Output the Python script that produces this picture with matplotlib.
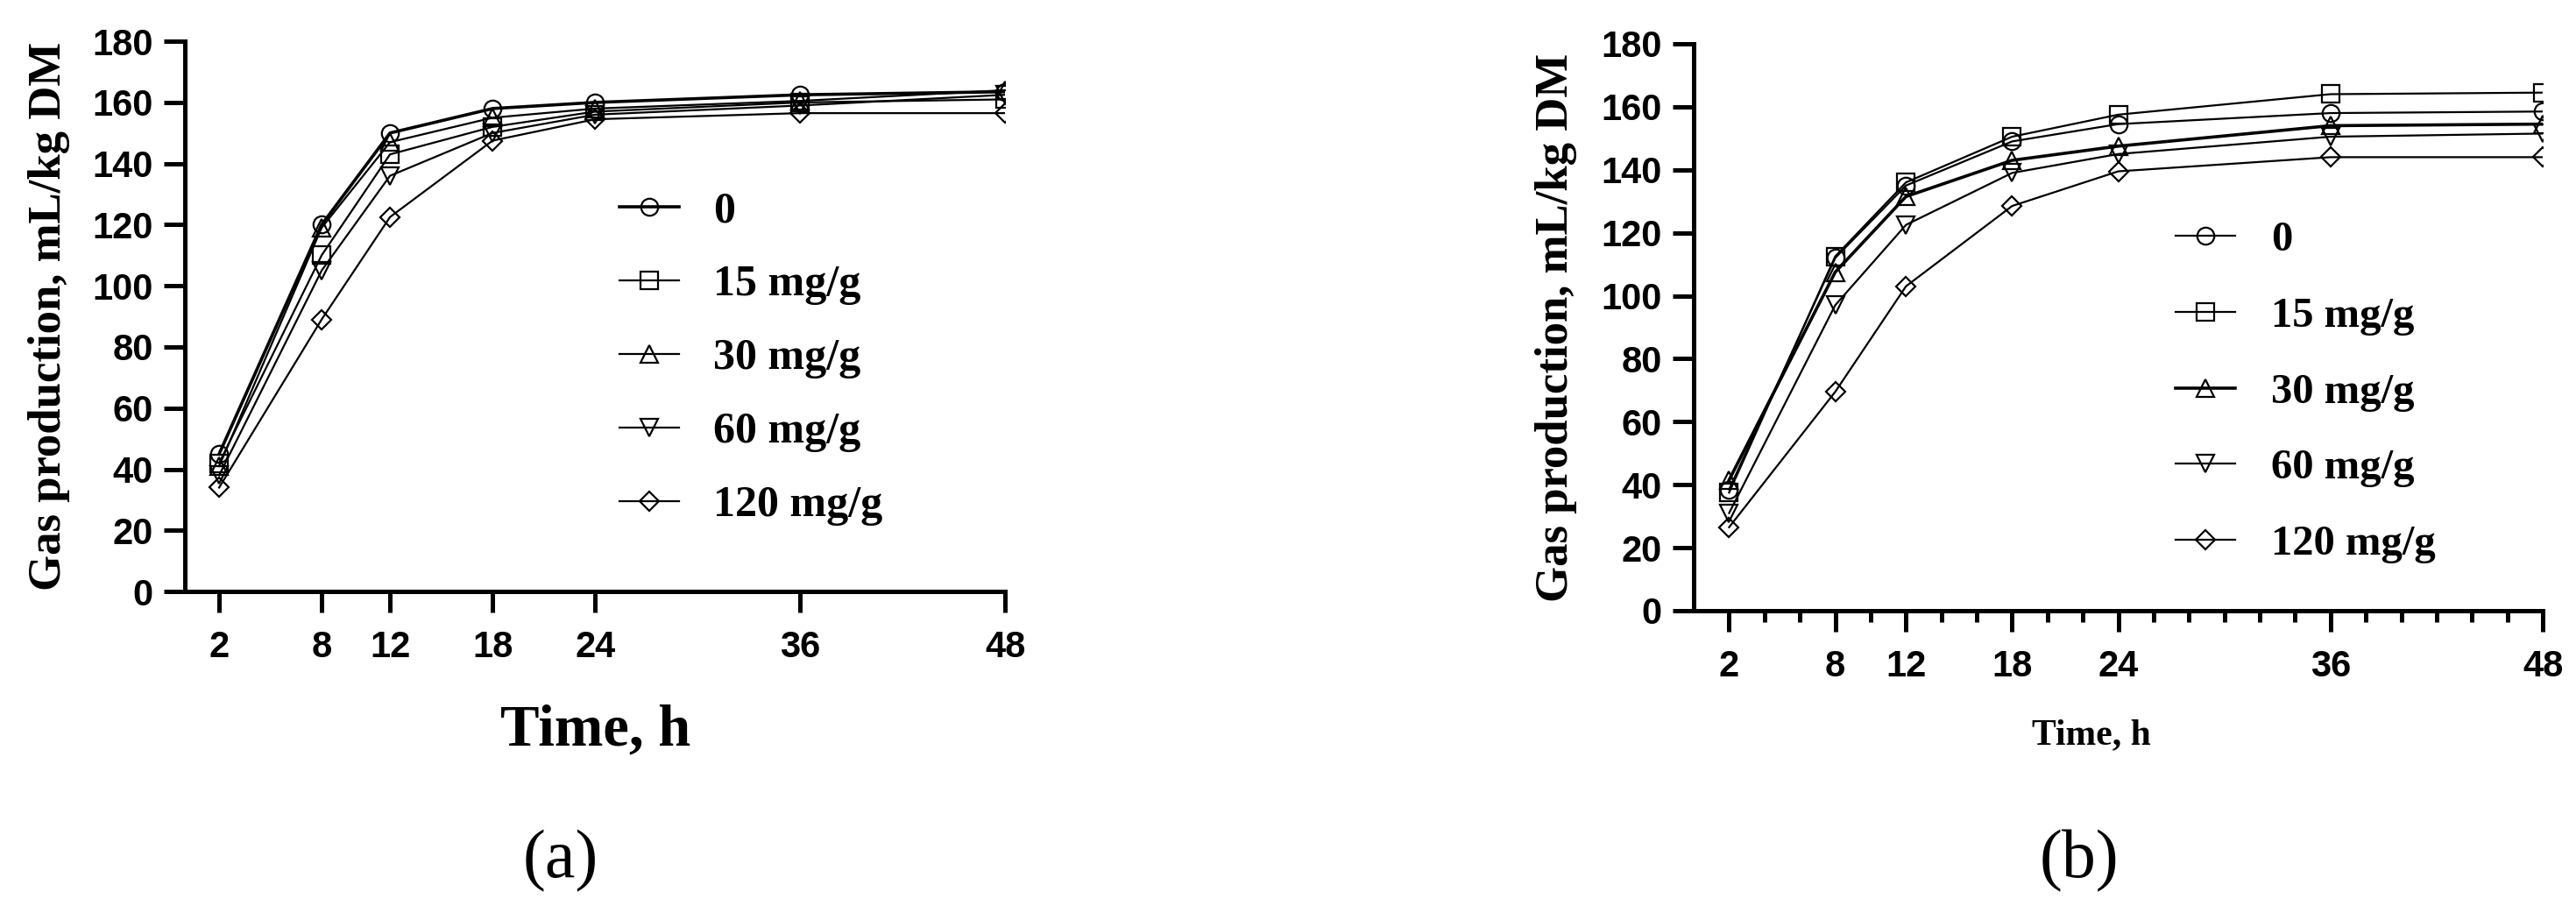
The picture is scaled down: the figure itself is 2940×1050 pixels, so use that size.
import matplotlib
matplotlib.use('Agg')
import matplotlib.pyplot as plt
from matplotlib.ticker import FixedLocator

# incubation times (h) and treatment doses
hours = [2, 8, 12, 18, 24, 36, 48]
doses = ['0', '15 mg/g', '30 mg/g', '60 mg/g', '120 mg/g']
markers = ['o', 's', '^', 'v', 'D']

# (a) gas production, mL/kg DM
gas_a_0 = [45, 120, 150, 158, 160, 162.5, 163.5]
gas_a_15 = [42, 110, 143, 152, 157, 160, 161]
gas_a_30 = [41, 119, 147, 155, 158, 160.5, 164]
gas_a_60 = [38, 105, 136, 150, 156, 159, 162.5]
gas_a_120 = [34, 89, 122.5, 147.5, 154.5, 156.5, 156.5]

# (b) gas production, mL/kg DM
gas_b_0 = [38.5, 112, 135, 149, 154.5, 158, 158.5]
gas_b_15 = [37.5, 112.5, 136, 150.5, 157.5, 164, 164.5]
gas_b_30 = [41.5, 107.5, 131.5, 143, 147.5, 154, 154.5]
gas_b_60 = [31, 97, 122.5, 139, 145, 150.5, 151.5]
gas_b_120 = [26.5, 69.5, 103, 128.5, 139.5, 144, 144]

serif = ['Liberation Serif', 'DejaVu Serif']
sans = ['Liberation Sans', 'DejaVu Sans']

fig = plt.figure(figsize=(29.4, 10.5), dpi=100)
ax_a = fig.add_axes([0.0718, 0.3571, 0.3184, 0.598])
ax_b = fig.add_axes([0.6575, 0.3362, 0.3296, 0.6162])


def draw_panel(ax, series, widths, minor):
    for vals, lab, m, lw in zip(series, doses, markers, widths):
        ms = 11 if m == 'D' else 14
        ax.plot(hours, vals, color='black', lw=lw, marker=m, ms=ms,
                fillstyle='none', mew=1.6, label=lab)
    ax.set_xlim(0, 48)
    ax.set_ylim(0, 180)
    ax.set_xticks(hours)
    ax.set_yticks(range(0, 181, 20))
    if minor:
        ax.xaxis.set_minor_locator(FixedLocator(list(range(4, 49, 2))))
        ax.tick_params(axis='x', which='minor', length=9, width=3.6)
    for side in ['top', 'right']:
        ax.spines[side].set_visible(False)
    for side in ['left', 'bottom']:
        ax.spines[side].set_linewidth(3.6)
    ax.tick_params(which='major', length=17, width=3.6, pad=9)
    ax.tick_params(axis='x', which='major', pad=15)
    for t in ax.get_xticklabels() + ax.get_yticklabels():
        t.set_family(sans)
        t.set_fontweight('bold')
        t.set_fontsize(30)
    ax.set_ylabel('Gas production, mL/kg DM', family=serif,
                  fontweight='bold', fontsize=38)


draw_panel(ax_a, [gas_a_0, gas_a_15, gas_a_30, gas_a_60, gas_a_120],
           [2.6, 1.6, 1.6, 1.6, 1.6], False)
draw_panel(ax_b, [gas_b_0, gas_b_15, gas_b_30, gas_b_60, gas_b_120],
           [1.6, 1.6, 2.6, 1.6, 1.6], True)

ax_a.yaxis.set_label_coords(-0.14, 0.5)
ax_b.yaxis.set_label_coords(-0.137, 0.5)

ax_a.set_xlabel('Time, h', family=serif, fontweight='bold', fontsize=48)
ax_a.xaxis.set_label_coords(0.5, -0.205)
ax_b.set_xlabel('Time, h', family=serif, fontweight='bold', fontsize=30)
ax_b.xaxis.set_label_coords(0.468, -0.19)

ax_a.legend(loc='upper left', bbox_to_anchor=(707 / 2940, 1 - 218 / 1050),
            bbox_transform=fig.transFigure, frameon=False, numpoints=1,
            handlelength=1.35, handletextpad=0.8, labelspacing=0.76,
            borderpad=0, borderaxespad=0,
            prop={'family': serif, 'weight': 'bold', 'size': 36})
ax_b.legend(loc='upper left', bbox_to_anchor=(2483 / 2940, 1 - 252 / 1050),
            bbox_transform=fig.transFigure, frameon=False, numpoints=1,
            handlelength=1.4, handletextpad=0.85, labelspacing=0.88,
            borderpad=0, borderaxespad=0,
            prop={'family': serif, 'weight': 'bold', 'size': 35})

fig.text(640 / 2940, 1 - 983 / 1050, '(a)', family=serif, fontsize=56,
         ha='center', va='center')
fig.text(2373 / 2940, 1 - 983 / 1050, '(b)', family=serif, fontsize=56,
         ha='center', va='center')

fig.savefig('out.png', dpi=100)
